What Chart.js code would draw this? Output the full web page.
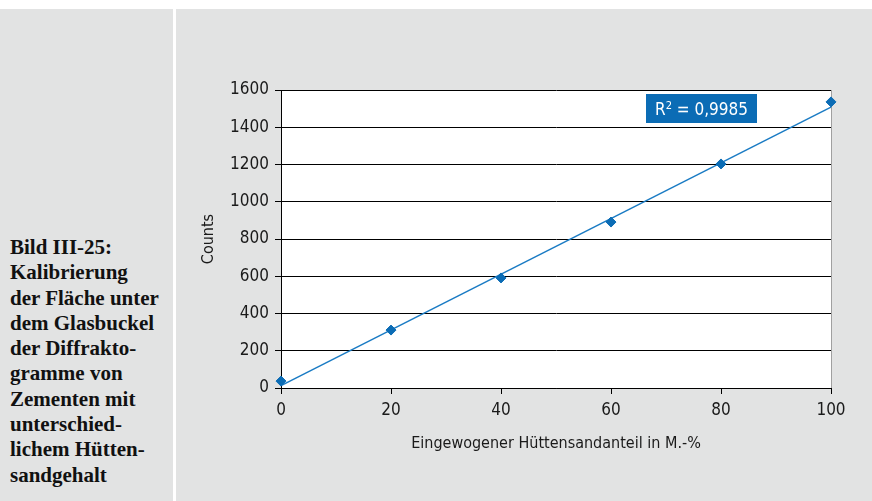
<!DOCTYPE html>
<html>
<head>
<meta charset="utf-8">
<script src="https://cdn.jsdelivr.net/npm/chart.js@4.4.1/dist/chart.umd.min.js"></script>
<style>
  html, body { margin:0; padding:0; background:#ffffff; width:872px; height:501px; overflow:hidden; }
  #left { position:absolute; left:0; top:9px; width:173px; height:492px; background:#e2e3e3; }
  #right { position:absolute; left:176px; top:9px; width:696px; height:492px; background:#e2e3e3; }
  #caption { position:absolute; left:10px; top:235px; font-family:"Liberation Serif","Times New Roman",serif; font-weight:bold; font-size:21px; line-height:25.3px; color:#111; white-space:nowrap; }
  #wrap { position:absolute; left:176px; top:9px; width:696px; height:492px; }
</style>
</head>
<body>
<div id="left"></div>
<div id="right"></div>
<div id="caption">Bild III-25:<br>Kalibrierung<br>der Fläche unter<br>dem Glasbuckel<br>der Diffrakto-<br>gramme von<br>Zementen mit<br>unterschied-<br>lichem Hütten-<br>sandgehalt</div>
<div id="wrap"><canvas id="c" width="696" height="492"></canvas></div>
<script>
// Data
const shares = [0, 20, 40, 60, 80, 100];            // Eingewogener Hüttensandanteil in M.-%
const counts = [37, 311, 591, 891, 1203, 1536];     // Counts
const trendX = [0, 100];
const trendY = [13, 1508];
const rSquaredLabel = "0,9985";
const xTickValues = [0, 20, 40, 60, 80, 100];
const yTickValues = [0, 200, 400, 600, 800, 1000, 1200, 1400, 1600];

const FONT = "'DejaVu Sans Condensed','Roboto','Liberation Sans',sans-serif";
const BLUE = '#0b6cb5';

const bgPlugin = {
  id: 'bg',
  beforeDraw(chart) {
    const {ctx, chartArea:a} = chart;
    ctx.save();
    ctx.fillStyle = '#ffffff';
    ctx.fillRect(a.left, a.top, a.right - a.left, a.bottom - a.top);
    ctx.restore();
  },
  afterDraw(chart) {
    const {ctx, chartArea:a} = chart;
    // R² box
    const bx = a.right - 185, by = a.top + 4, bw = 111, bh = 29;
    ctx.save();
    ctx.fillStyle = BLUE;
    ctx.fillRect(bx, by, bw, bh);
    ctx.fillStyle = '#ffffff';
    ctx.textBaseline = 'alphabetic';
    const base = by + bh/2 + 6.5;
    const p1 = 'R';
    const p3 = ' = ' + rSquaredLabel;
    ctx.font = "11px " + FONT;
    const w2 = ctx.measureText('2').width;
    ctx.font = "17px " + FONT;
    const w1 = ctx.measureText(p1).width, w3 = ctx.measureText(p3).width;
    let x = bx + (bw - (w1 + w2 + w3)) / 2;
    ctx.fillText(p1, x, base); x += w1;
    ctx.font = "11px " + FONT;
    ctx.fillText('2', x, base - 6.5); x += w2;
    ctx.font = "17px " + FONT;
    ctx.fillText(p3, x, base);
    ctx.restore();
  }
};

new Chart(document.getElementById('c'), {
  type: 'scatter',
  data: {
    datasets: [
      {
        label: 'Trend',
        data: trendX.map((x, i) => ({x, y: trendY[i]})),
        showLine: true,
        borderColor: '#1a7bc4',
        borderWidth: 1.5,
        pointRadius: 0,
        fill: false,
        clip: false,
        order: 2
      },
      {
        label: 'Counts',
        data: shares.map((x, i) => ({x, y: counts[i]})),
        backgroundColor: BLUE,
        borderColor: BLUE,
        pointStyle: 'rectRot',
        pointRadius: 5,
        pointHoverRadius: 5,
        clip: false,
        order: 1
      }
    ]
  },
  options: {
    responsive: false,
    animation: false,
    events: [],
    layout: { padding: { left: 0, right: 41, top: 81, bottom: 0 } },
    plugins: { legend: { display: false }, tooltip: { enabled: false } },
    scales: {
      x: {
        type: 'linear',
        min: 0, max: 100,
        afterBuildTicks(s) { s.ticks = xTickValues.map(v => ({value: v})); },
        afterFit(s) { s.height = 113; },
        border: { display: true, color: '#000000', width: 1 },
        grid: {
          color: (c) => (c.index === xTickValues.length - 1 ? '#a0a0a0' : 'rgba(0,0,0,0)'),
          tickColor: '#000000',
          tickLength: 6,
          lineWidth: 1
        },
        ticks: { color: '#1a1a1a', font: { family: FONT, size: 17 }, padding: 6, maxRotation: 0,
                 callback: (v) => String(v) },
        title: {
          display: true,
          text: 'Eingewogener Hüttensandanteil in M.-%',
          color: '#1a1a1a',
          font: { family: FONT, size: 16 },
          padding: { top: 0, bottom: 48 }
        }
      },
      y: {
        min: 0, max: 1600,
        afterBuildTicks(s) { s.ticks = yTickValues.map(v => ({value: v})); },
        afterFit(s) { s.width = 105; },
        border: { display: true, color: '#000000', width: 1 },
        grid: { color: '#000000', tickColor: '#000000', tickLength: 6, lineWidth: 1 },
        ticks: { color: '#1a1a1a', font: { family: FONT, size: 17 }, padding: 6,
                 callback: (v) => String(v) },
        title: {
          display: true,
          text: 'Counts',
          color: '#1a1a1a',
          font: { family: FONT, size: 16 },
          padding: { top: 23, bottom: 0 }
        }
      }
    }
  },
  plugins: [bgPlugin]
});
</script>
</body>
</html>
